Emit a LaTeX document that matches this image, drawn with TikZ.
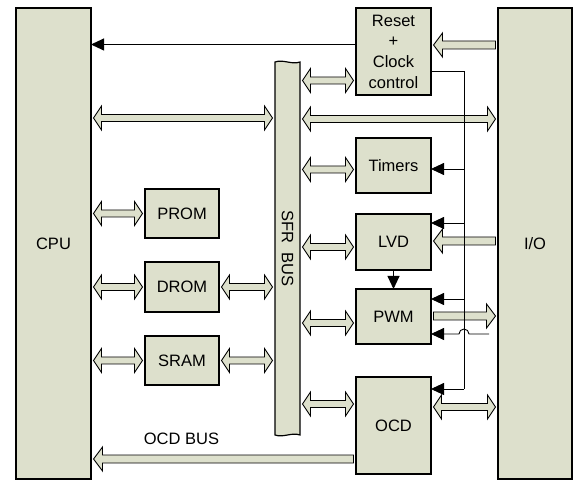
\documentclass[tikz,border=0pt]{standalone}
\usepackage{fontspec}
\setmainfont{Liberation Sans}
\usetikzlibrary{arrows.meta,calc}

\definecolor{blockfill}{RGB}{221,224,204}

\tikzset{
	block/.style={draw,fill=blockfill,line width=1.2pt},
	sig/.style={line width=0.9pt,-{Triangle[length=13pt,width=12pt]}},
	fat both/.style={draw,fill=blockfill,line width=0.9pt,to path={
		let \p1=(\tikztostart), \p2=(\tikztotarget) in
		(\x1+2.5,\y1) -- (\x1+10.5,\y1+12) -- (\x1+10.5,\y1+3.5) -- (\x2-10.5,\y1+3.5)
		-- (\x2-10.5,\y1+12) -- (\x2-2.5,\y1) -- (\x2-10.5,\y1-12) -- (\x2-10.5,\y1-3.5)
		-- (\x1+10.5,\y1-3.5) -- (\x1+10.5,\y1-12) -- cycle}},
	fat one/.style={draw,fill=blockfill,line width=0.9pt,to path={
		let \p1=(\tikztostart), \p2=(\tikztotarget), \n1={sign(\x2-\x1)} in
		(\x1+\n1*2.5,\y1+4) -- (\x2-\n1*11.5,\y1+4) -- (\x2-\n1*11.5,\y1+12) -- (\x2-\n1*2.5,\y1)
		-- (\x2-\n1*11.5,\y1-12) -- (\x2-\n1*11.5,\y1-4) -- (\x1+\n1*2.5,\y1-4) -- cycle}}
}

\begin{document}
\begin{tikzpicture}[x=1pt,y=1pt,font=\fontsize{16.5}{20.7}\selectfont]
	\useasboundingbox (0,0) rectangle (587,496);

	\begin{scope}[every node/.style={block,rectangle,outer sep=0pt,inner sep=0pt,align=center}]
		\node[minimum width=75pt,minimum height=471pt] (cpu) at (53.5,252.5) {CPU};
		\node[minimum width=74pt,minimum height=471pt] (io) at (535,252.5) {I/O};
		\node[minimum width=75pt,minimum height=87pt] (reset) at (393.5,444.5) {Reset\\+\\Clock\\control};
		\node[minimum width=75pt,minimum height=55pt] (timers) at (393.5,330.5) {Timers};
		\node[minimum width=75pt,minimum height=56pt] (lvd) at (393.5,254) {LVD};
		\node[minimum width=75pt,minimum height=55pt] (pwm) at (393.5,179.5) {PWM};
		\node[minimum width=75pt,minimum height=97pt] (ocd) at (393.5,70.5) {OCD};
		\node[minimum width=74pt,minimum height=49pt] (prom) at (182,282.5) {PROM};
		\node[minimum width=74pt,minimum height=50pt] (drom) at (182,209) {DROM};
		\node[minimum width=74pt,minimum height=49pt] (sram) at (182,135.5) {SRAM};
	\end{scope}

	% SFR bus with torn ends
	\node[minimum width=25pt,minimum height=373pt,inner sep=0pt,outer sep=0pt] (sfr_bus) at (287.5,247.5) {};
	\draw[block] (sfr_bus.south west) -- (sfr_bus.north west)
		.. controls +(8,3) and +(-8,-3) .. (sfr_bus.north east) -- (sfr_bus.south east)
		.. controls +(-8,3) and +(8,-3) .. (sfr_bus.south west) -- cycle;
	\node[rotate=-90] (sfr_lbl) at (sfr_bus) {SFR\ \ BUS};

	% wide buses
	\draw[fat both] (sfr_bus.east |- 0,415.5) to (reset.west |- 0,415.5);
	\draw[fat both] (cpu.east |- 0,378) to (sfr_bus.west |- 0,378);
	\draw[fat both] (sfr_bus.east |- 0,377) to (io.west |- 0,377);
	\draw[fat both] (sfr_bus.east |- 0,326.5) to (timers.west |- 0,326.5);
	\draw[fat both] (cpu.east |- prom) to (prom.west);
	\draw[fat both] (sfr_bus.east |- 0,249) to (lvd.west |- 0,249);
	\draw[fat both] (cpu.east |- drom) to (drom.west);
	\draw[fat both] (drom.east) to (sfr_bus.west |- drom);
	\draw[fat both] (sfr_bus.east |- 0,173) to (pwm.west |- 0,173);
	\draw[fat both] (cpu.east |- sram) to (sram.west);
	\draw[fat both] (sram.east) to (sfr_bus.west |- sram);
	\draw[fat both] (sfr_bus.east |- 0,92) to (ocd.west |- 0,92);
	\draw[fat both] (ocd.east |- 0,89) to (io.west |- 0,89);
	\draw[fat one] (io.west |- 0,451) to (reset.east |- 0,451);
	\draw[fat one] (io.west |- 0,255) to (lvd.east |- 0,255);
	\draw[fat one] (pwm.east |- 0,180) to (io.west |- 0,180);
	\draw[fat one] (ocd.west |- 0,37) to (cpu.east |- 0,37);
	\node (ocd_bus_lbl) at (181.5,57) {OCD BUS};

	% reset and clock lines
	\coordinate (trunk_top) at (464,425);
	\coordinate (trunk_bot) at (464,107);
	\coordinate (pwm_in) at (489,162);
	\draw[sig] (reset.west |- 0,451.5) -- (cpu.east |- 0,451.5);
	\draw[line width=0.9pt] (reset.east |- trunk_top) -- (trunk_top) -- (trunk_bot);
	\draw[sig] (trunk_bot) -- (ocd.east |- trunk_bot);
	\draw[sig] (trunk_top |- 0,327) -- (timers.east |- 0,327);
	\draw[sig] (trunk_top |- 0,273) -- (lvd.east |- 0,273);
	\draw[sig] (trunk_top |- 0,197) -- (pwm.east |- 0,197);
	\draw[sig] (pwm_in) -- (469,162) arc[start angle=0,end angle=180,radius=5] -- (pwm.east |- pwm_in);
	\draw[sig] (lvd.south) -- (pwm.north);

\end{tikzpicture}
\end{document}
